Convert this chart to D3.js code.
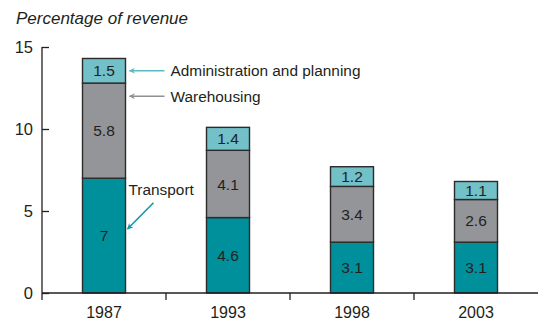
<!DOCTYPE html>
<html>
<head>
<meta charset="utf-8">
<script src="https://cdn.jsdelivr.net/npm/d3@7/dist/d3.min.js"></script>
<style>
  html, body { margin: 0; padding: 0; background: #fff; }
  svg { display: block; font-family: "Liberation Sans", Arial, Helvetica, sans-serif; }
</style>
</head>
<body>
<svg id="chart" width="538" height="320"></svg>
<script>
// Logistics cost as a share of revenue, by component
const years = ["1987", "1993", "1998", "2003"];
const transport = [7, 4.6, 3.1, 3.1];
const warehousing = [5.8, 4.1, 3.4, 2.6];
const administration = [1.5, 1.4, 1.2, 1.1];
const seriesNames = ["Transport", "Warehousing", "Administration and planning"];
const yTicks = [0, 5, 10, 15];

const colors = {
  "Transport": "#00909c",
  "Warehousing": "#939598",
  "Administration and planning": "#72c0c8"
};
const ink = "#231f20";

const rows = years.map((yr, i) => ({
  year: yr,
  "Transport": transport[i],
  "Warehousing": warehousing[i],
  "Administration and planning": administration[i]
}));

const svg = d3.select("#chart");
const x = d3.scaleBand().domain(years).range([42, 538]);
const y = d3.scaleLinear().domain([0, 15]).range([293, 47]);
const barW = 43;

const stacked = d3.stack().keys(seriesNames)(rows);

// Bars
const layers = svg.append("g").selectAll("g")
  .data(stacked).join("g")
  .attr("fill", d => colors[d.key]);

layers.selectAll("rect")
  .data(d => d.map(s => ({ s, key: d.key })))
  .join("rect")
  .attr("x", d => x(d.s.data.year) + x.bandwidth() / 2 - barW / 2)
  .attr("y", d => y(d.s[1]))
  .attr("width", barW)
  .attr("height", d => y(d.s[0]) - y(d.s[1]))
  .attr("stroke", "#2b2b2b")
  .attr("stroke-width", 1.4);

// Segment value labels
layers.selectAll("text")
  .data(d => d.map(s => ({ s, key: d.key })))
  .join("text")
  .attr("x", d => x(d.s.data.year) + x.bandwidth() / 2)
  .attr("y", d => (y(d.s[0]) + y(d.s[1])) / 2)
  .attr("dy", "0.36em")
  .attr("text-anchor", "middle")
  .attr("fill", ink)
  .attr("font-size", 15.5)
  .text(d => d.s.data[d.key]);

// Y axis
const yAxis = svg.append("g").attr("transform", "translate(42,0)")
  .call(d3.axisRight(y).tickValues(yTicks).tickSize(7).tickFormat(""));
yAxis.select(".domain").remove();
yAxis.selectAll("line").attr("stroke", ink).attr("stroke-width", 1.3);
svg.append("line")
  .attr("x1", 42).attr("x2", 42)
  .attr("y1", y(15)).attr("y2", 300)
  .attr("stroke", ink).attr("stroke-width", 1.3);
svg.append("g").selectAll("text")
  .data(yTicks).join("text")
  .attr("x", 33)
  .attr("y", d => y(d))
  .attr("dy", "0.36em")
  .attr("text-anchor", "end")
  .attr("fill", ink)
  .attr("font-size", 16.5)
  .text(d => d);

// X axis with ticks between categories
svg.append("line")
  .attr("x1", 42).attr("x2", 538)
  .attr("y1", y(0)).attr("y2", y(0))
  .attr("stroke", ink).attr("stroke-width", 1.3);
svg.append("g").selectAll("line")
  .data(years.slice(1)).join("line")
  .attr("x1", d => x(d)).attr("x2", d => x(d))
  .attr("y1", y(0)).attr("y2", y(0) + 7)
  .attr("stroke", ink).attr("stroke-width", 1.3);
svg.append("g").selectAll("text")
  .data(years).join("text")
  .attr("x", d => x(d) + x.bandwidth() / 2)
  .attr("y", 318)
  .attr("text-anchor", "middle")
  .attr("fill", ink)
  .attr("font-size", 16)
  .text(d => d);

// Axis title
svg.append("text")
  .attr("x", 16).attr("y", 24)
  .attr("font-style", "italic")
  .attr("fill", ink)
  .attr("font-size", 17)
  .text("Percentage of revenue");

// Callout arrows
const defs = svg.append("defs");
function marker(id, color) {
  defs.append("marker")
    .attr("id", id)
    .attr("viewBox", "0 0 10 10")
    .attr("refX", 9).attr("refY", 5)
    .attr("markerWidth", 7).attr("markerHeight", 6)
    .attr("markerUnits", "userSpaceOnUse")
    .attr("orient", "auto")
    .append("path")
    .attr("d", "M0,0 L10,5 L0,10 L3,5 Z")
    .attr("fill", color);
}
marker("arrAdmin", "#5fb9c3");
marker("arrWare", "#8e9093");
marker("arrTrans", "#1497a3");

const firstYear = years[0];
const barRight = x(firstYear) + x.bandwidth() / 2 + barW / 2;
const adminMid = y(transport[0] + warehousing[0] + administration[0] / 2);
const wareY = y(12);
const labelSize = 15.4;

svg.append("line")
  .attr("x1", barRight + 39).attr("y1", adminMid)
  .attr("x2", barRight + 4).attr("y2", adminMid)
  .attr("stroke", "#5fb9c3").attr("stroke-width", 1.6)
  .attr("marker-end", "url(#arrAdmin)");
svg.append("text")
  .attr("x", barRight + 45).attr("y", adminMid).attr("dy", "0.36em")
  .attr("fill", ink).attr("font-size", labelSize)
  .text(seriesNames[2]);

svg.append("line")
  .attr("x1", barRight + 39).attr("y1", wareY)
  .attr("x2", barRight + 4).attr("y2", wareY)
  .attr("stroke", "#8e9093").attr("stroke-width", 1.6)
  .attr("marker-end", "url(#arrWare)");
svg.append("text")
  .attr("x", barRight + 45).attr("y", wareY).attr("dy", "0.36em")
  .attr("fill", ink).attr("font-size", labelSize)
  .text(seriesNames[1]);

svg.append("line")
  .attr("x1", barRight + 28).attr("y1", y(5.5))
  .attr("x2", barRight + 2).attr("y2", y(3.9))
  .attr("stroke", "#1497a3").attr("stroke-width", 1.6)
  .attr("marker-end", "url(#arrTrans)");
svg.append("text")
  .attr("x", barRight + 3).attr("y", y(6.3)).attr("dy", "0.36em")
  .attr("fill", ink).attr("font-size", labelSize)
  .text(seriesNames[0]);
</script>
</body>
</html>
